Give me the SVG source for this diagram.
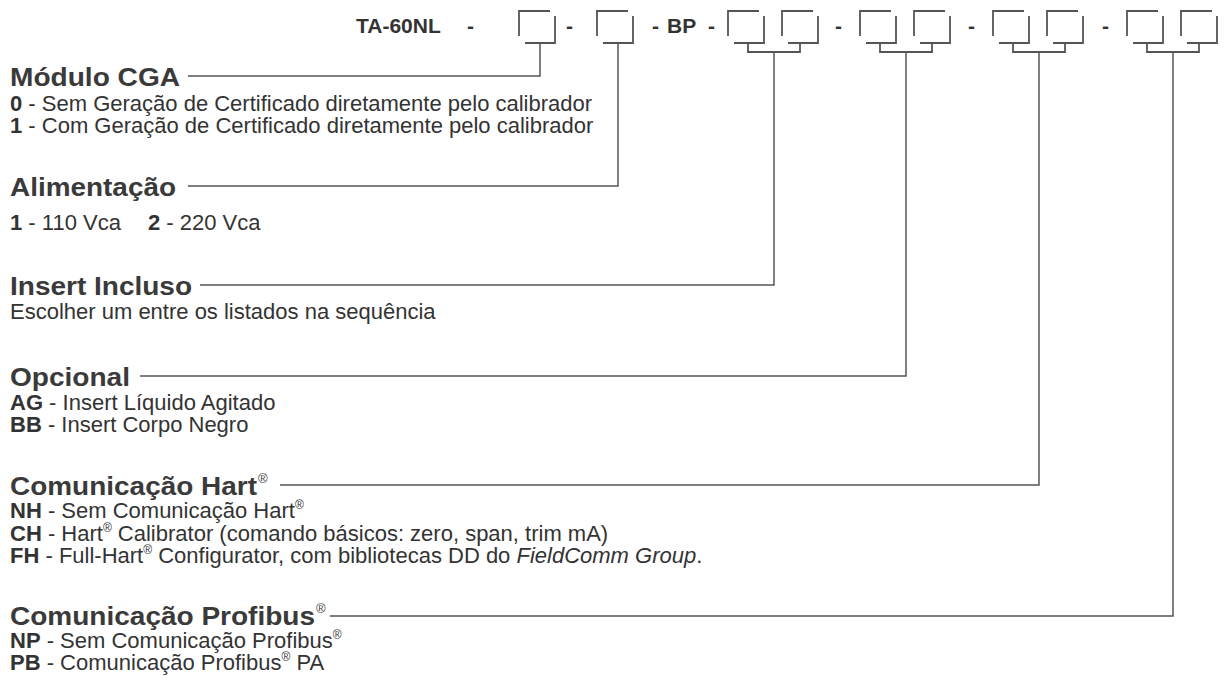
<svg xmlns="http://www.w3.org/2000/svg" width="1224" height="687" viewBox="0 0 1224 687">
<defs>
<style>
.hd{font-family:"Liberation Sans",Arial,sans-serif;font-weight:bold;font-size:21px;fill:#333}
.h{font-family:"Liberation Sans",Arial,sans-serif;font-weight:bold;font-size:25px;fill:#3a3a3a}
.t{font-family:"Liberation Sans",Arial,sans-serif;font-size:22px;fill:#333}
.b{font-weight:bold}
.i{font-style:italic}
.r{font-size:12px}
.rh{font-family:"Liberation Sans",Arial,sans-serif;font-size:13px;fill:#3a3a3a}
.ln{fill:none;stroke:#555;stroke-width:1.5}
.bx{fill:none;stroke:#555;stroke-width:1.8}
</style>
<g id="box"><path class="bx" d="M0 36V11H31M36 16V43H6"/></g>
<g id="pair"><use href="#box"/><use href="#box" x="54"/><path class="bx" d="M20 43V52H72V43"/></g>
</defs>
<rect width="1224" height="687" fill="#fff"/>
<g id="header">
<text class="hd" x="356" y="33">TA-60NL</text>
<text class="hd" x="467" y="33">-</text>
<use href="#box" x="519"/>
<text class="hd" x="566" y="33">-</text>
<use href="#box" x="597"/>
<text class="hd" x="652" y="33">-</text>
<text class="hd" x="667" y="33">BP</text>
<text class="hd" x="708" y="33">-</text>
<use href="#pair" x="728"/>
<text class="hd" x="835" y="33">-</text>
<use href="#pair" x="860"/>
<text class="hd" x="968" y="33">-</text>
<use href="#pair" x="993"/>
<text class="hd" x="1102" y="33">-</text>
<use href="#pair" x="1127"/>
</g>
<g id="connectors">
<path class="ln" d="M540 43V76H188"/>
<path class="ln" d="M618 43V186H188"/>
<path class="ln" d="M774 52V285H200"/>
<path class="ln" d="M906 52V376H140"/>
<path class="ln" d="M1039 52V485H280"/>
<path class="ln" d="M1173 52V616H330"/>
</g>
<g id="modulo">
<text class="h" x="10" y="86" textLength="170" lengthAdjust="spacingAndGlyphs">Módulo CGA</text>
<text class="t" x="10" y="111"><tspan class="b">0</tspan> - Sem Geração de Certificado diretamente pelo calibrador</text>
<text class="t" x="10" y="133"><tspan class="b">1</tspan> - Com Geração de Certificado diretamente pelo calibrador</text>
</g>
<g id="alimentacao">
<text class="h" x="10" y="196" textLength="166" lengthAdjust="spacingAndGlyphs">Alimentação</text>
<text class="t" x="10" y="230"><tspan class="b">1</tspan> - 110 Vca</text>
<text class="t" x="148" y="230"><tspan class="b">2</tspan> - 220 Vca</text>
</g>
<g id="insert">
<text class="h" x="10" y="295" textLength="182" lengthAdjust="spacingAndGlyphs">Insert Incluso</text>
<text class="t" x="10" y="319">Escolher um entre os listados na sequência</text>
</g>
<g id="opcional">
<text class="h" x="10" y="386" textLength="120" lengthAdjust="spacingAndGlyphs">Opcional</text>
<text class="t" x="10" y="410"><tspan class="b">AG</tspan> - Insert Líquido Agitado</text>
<text class="t" x="10" y="432"><tspan class="b">BB</tspan> - Insert Corpo Negro</text>
</g>
<g id="hart">
<text class="h" x="10" y="495" textLength="247" lengthAdjust="spacingAndGlyphs">Comunicação Hart</text>
<text class="rh" x="258" y="483">®</text>
<text class="t" x="10" y="518"><tspan class="b">NH</tspan> - Sem Comunicação Hart<tspan class="r" dy="-9">®</tspan></text>
<text class="t" x="10" y="541"><tspan class="b">CH</tspan> - Hart<tspan class="r" dy="-9">®</tspan><tspan dy="9"> Calibrator (comando básicos: zero, span, trim mA)</tspan></text>
<text class="t" x="10" y="563"><tspan class="b">FH</tspan> - Full-Hart<tspan class="r" dy="-9">®</tspan><tspan dy="9"> Configurator, com bibliotecas DD do </tspan><tspan class="i">FieldComm Group</tspan>.</text>
</g>
<g id="profibus">
<text class="h" x="10" y="625" textLength="305" lengthAdjust="spacingAndGlyphs">Comunicação Profibus</text>
<text class="rh" x="316" y="613">®</text>
<text class="t" x="10" y="648"><tspan class="b">NP</tspan> - Sem Comunicação Profibus<tspan class="r" dy="-9">®</tspan></text>
<text class="t" x="10" y="670"><tspan class="b">PB</tspan> - Comunicação Profibus<tspan class="r" dy="-9">®</tspan><tspan dy="9"> PA</tspan></text>
</g>
</svg>
